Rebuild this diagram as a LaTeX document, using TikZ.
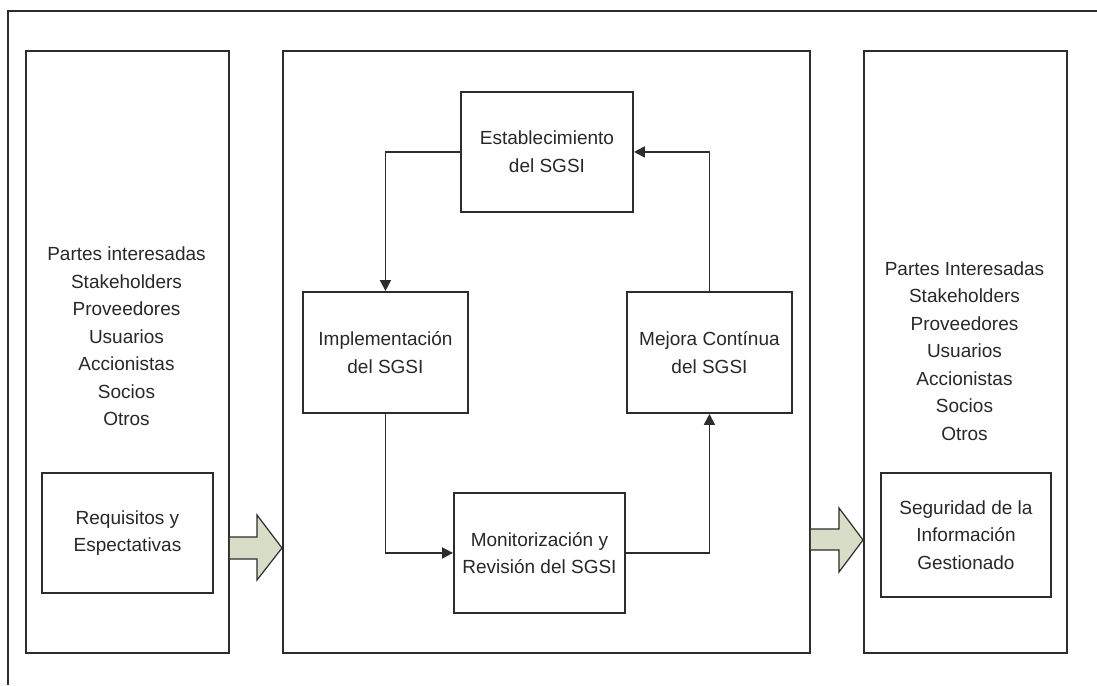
\documentclass[tikz,border=0pt]{standalone}
\usepackage{fontspec}
\setmainfont{Liberation Sans}
\usetikzlibrary{arrows.meta,calc}

\definecolor{linec}{RGB}{45,45,45}
\definecolor{textc}{RGB}{40,40,40}
\definecolor{arrowfill}{RGB}{216,221,199}

\begin{document}
\begin{tikzpicture}[x=1pt,y=-1pt,
  every node/.style={font=\fontsize{19}{27.5}\selectfont, text=textc},
  panel/.style={draw=linec, line width=1.9pt, fill=white, anchor=north west,
    inner sep=0pt},
  box/.style={draw=linec, line width=1.9pt, fill=white, anchor=north west,
    inner sep=0pt, align=center},
  label/.style={align=center, inner sep=0pt},
  conn/.style={draw=linec, line width=1.8pt,
    -{Triangle[length=11pt,width=11pt]}},
  bigarrow/.style={draw=linec, line width=1.2pt, fill=arrowfill, line join=miter}
]
\useasboundingbox (0,0) rectangle (1097,685);

% outer frame (only its top and left sides fall on the page)
\draw[linec, line width=1.9pt] (8,685) -- (8,11) -- (1097,11);

% three columns
\node[panel, minimum width=203pt, minimum height=602pt] (lp) at (25,50) {};
\node[panel, minimum width=527pt, minimum height=602pt] (mp) at (282,50) {};
\node[panel, minimum width=203pt, minimum height=602pt] (rp) at (863,50) {};

% left column contents
\node[label] (lt) at (126.5,336.5) {Partes interesadas\\Stakeholders\\Proveedores\\Usuarios\\Accionistas\\Socios\\Otros};
\node[box, minimum width=171pt, minimum height=120pt] (req) at (41,472)
  {Requisitos y\\Espectativas};

% right column contents
\node[label] (rt) at (964.5,351) {Partes Interesadas\\Stakeholders\\Proveedores\\Usuarios\\Accionistas\\Socios\\Otros};
\node[box, minimum width=170pt, minimum height=124pt] (seg) at (880,472)
  {Seguridad de la\\Información\\Gestionado};

% cycle boxes
\node[box, minimum width=172pt, minimum height=120pt] (est) at (460,91)
  {Establecimiento\\del SGSI};
\node[box, minimum width=165pt, minimum height=121pt] (impl) at (302,291)
  {Implementación\\del SGSI};
\node[box, minimum width=165pt, minimum height=121pt] (mej) at (626,291)
  {Mejora Contínua\\del SGSI};
\node[box, minimum width=171pt, minimum height=120pt] (mon) at (453,492)
  {Monitorización y\\Revisión del SGSI};

% cycle connectors
\draw[conn] (est.west) -| (impl.north);
\draw[conn] (impl.south) |- (mon.west);
\draw[conn] (mon.east) -| (mej.south);
\draw[conn] (mej.north) |- (est.east);

% broad arrows between columns
\draw[bigarrow] (lp.east |- 0,537) -- (257,537) -- (257,515)
  -- (mp.west |- 0,548) -- (257,580) -- (257,559) -- (lp.east |- 0,559);
\draw[bigarrow] (mp.east |- 0,529) -- (839,529) -- (839,508)
  -- (rp.west |- 0,540) -- (839,572) -- (839,550) -- (mp.east |- 0,550);
\end{tikzpicture}
\end{document}
